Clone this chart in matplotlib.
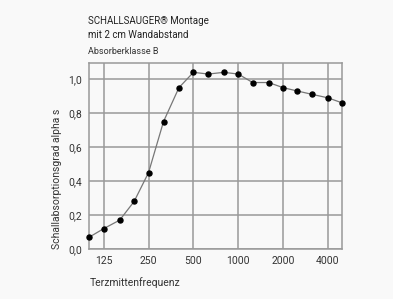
import matplotlib.pyplot as plt
from matplotlib.ticker import FixedLocator, NullLocator

plt.rcParams['font.family'] = ['Roboto', 'DejaVu Sans']

freq = [100, 125, 160, 200, 250, 315, 400, 500, 630, 800,
        1000, 1250, 1600, 2000, 2500, 3150, 4000, 5000]
alpha = [0.07, 0.12, 0.17, 0.28, 0.45, 0.75, 0.95, 1.04, 1.03, 1.04,
         1.03, 0.98, 0.98, 0.95, 0.93, 0.91, 0.89, 0.86]
xticks = [125, 250, 500, 1000, 2000, 4000]
yticks = [0.0, 0.2, 0.4, 0.6, 0.8, 1.0]
ytick_labels = ['0,0', '0,2', '0,4', '0,6', '0,8', '1,0']

bg = '#f9f9f9'
fig = plt.figure(figsize=(3.93, 2.99), dpi=100, facecolor=bg)
ax = fig.add_axes([89.3 / 393, 1 - 249 / 299, 253 / 393, 186 / 299])
ax.set_facecolor(bg)

ax.plot(freq, alpha, color='#777777', lw=0.9, marker='o', ms=3.6,
        mfc='black', mec='black', zorder=3, clip_on=False)

ax.set_xscale('log')
ax.set_xlim(100, 5000)
ax.set_ylim(0, 1.095)
ax.xaxis.set_major_locator(FixedLocator(xticks))
ax.xaxis.set_minor_locator(NullLocator())
ax.set_xticklabels([str(t) for t in xticks])
ax.set_yticks(yticks)
ax.set_yticklabels(ytick_labels)
ax.tick_params(length=0, labelsize=7.5, colors='#333333', pad=5)
ax.grid(True, color='#999999', lw=1.1)
for s in ax.spines.values():
    s.set_color('#999999')
    s.set_linewidth(1.1)

ax.set_xlabel('Terzmittenfrequenz', loc='left', fontsize=7.5,
              color='#333333', labelpad=8)
ax.set_ylabel('Schallabsorptionsgrad alpha s', loc='bottom', fontsize=7.5,
              color='#333333', labelpad=5)

fig.text(88 / 393, 1 - 21.5 / 299, 'SCHALLSAUGER® Montage', fontsize=7.0,
         color='#222222', va='center')
fig.text(88 / 393, 1 - 34.5 / 299, 'mit 2 cm Wandabstand', fontsize=7.0,
         color='#222222', va='center')
fig.text(88 / 393, 1 - 51.5 / 299, 'Absorberklasse B', fontsize=6.5,
         color='#333333', va='center')

fig.savefig('out.png', dpi=100, facecolor=bg)
